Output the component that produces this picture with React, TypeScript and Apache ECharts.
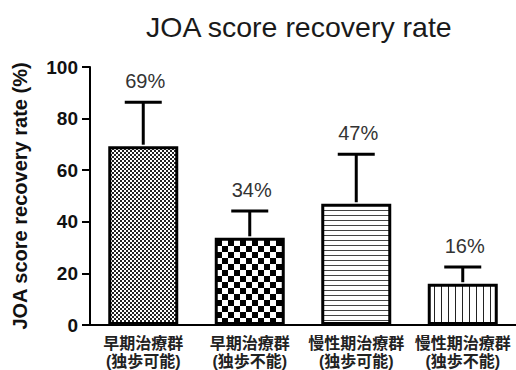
import React, { useEffect, useRef } from "react";
import * as echarts from "echarts";

const categories = ["早期治療群\n(独歩可能)", "早期治療群\n(独歩不能)", "慢性期治療群\n(独歩可能)", "慢性期治療群\n(独歩不能)"];
const values = [69.3, 33.8, 47, 16];
const upperErr = [86.3, 44.2, 66.2, 22.5];
const pctLabels = ["69%", "34%", "47%", "16%"];
const yTicks = [0, 20, 40, 60, 80, 100];

function makeTile(w: number, h: number, draw: (ctx: CanvasRenderingContext2D) => void) {
  const c = document.createElement("canvas");
  c.width = w;
  c.height = h;
  const ctx = c.getContext("2d")!;
  ctx.fillStyle = "#ffffff";
  ctx.fillRect(0, 0, w, h);
  draw(ctx);
  return { image: c, repeat: "repeat", imageWidth: w, imageHeight: h } as any;
}

export default function App() {
  const ref = useRef<HTMLDivElement>(null);
  useEffect(() => {
    if (!ref.current) return;
    const chart = echarts.init(ref.current, null, { renderer: "svg" });
    const patterns = [
      makeTile(4, 4, (ctx) => {
        ctx.fillStyle = "#222";
        ctx.fillRect(0, 0, 2, 2);
        ctx.fillRect(2, 2, 2, 2);
      }),
      makeTile(12, 12, (ctx) => {
        ctx.fillStyle = "#000";
        ctx.fillRect(0, 0, 6, 6);
        ctx.fillRect(6, 6, 6, 6);
      }),
      makeTile(4, 5, (ctx) => {
        ctx.fillStyle = "#444";
        ctx.fillRect(0, 0, 4, 1);
      }),
      makeTile(7, 4, (ctx) => {
        ctx.fillStyle = "#222";
        ctx.fillRect(0, 0, 1, 4);
      }),
    ];
    const errData = values.map((v, i) => [i, v, upperErr[i], pctLabels[i]]);
    chart.setOption({
      animation: false,
      title: {
        text: "JOA score recovery rate",
        left: 141,
        top: 7,
        textStyle: { fontFamily: "Liberation Sans, Arial", fontSize: 28.5, fontWeight: "normal", color: "#1a1a1a" },
      },
      grid: { left: 90, right: 0, top: 67, bottom: 45 },
      xAxis: {
        type: "category",
        data: categories,
        axisLine: { lineStyle: { color: "#000", width: 2 } },
        axisTick: { alignWithLabel: true, length: 6, lineStyle: { color: "#000", width: 2 } },
        axisLabel: {
          interval: 0,
          color: "#222",
          fontSize: 16,
          fontWeight: "bold",
          lineHeight: 18,
          margin: 9,
          fontFamily: "'Liberation Sans', 'Noto Sans CJK JP'",
        },
      },
      yAxis: {
        type: "value",
        min: 0,
        max: 100,
        interval: 20,
        name: "JOA score recovery rate (%)",
        nameLocation: "middle",
        nameGap: 60,
        nameTextStyle: { fontFamily: "Liberation Sans, Arial", fontSize: 20, fontWeight: "bold", color: "#111" },
        axisLine: { show: true, lineStyle: { color: "#000", width: 2 } },
        axisTick: { show: true, length: 8, lineStyle: { color: "#000", width: 2 } },
        splitLine: { show: false },
        axisLabel: {
          color: "#111",
          fontSize: 19,
          fontWeight: "bold",
          fontFamily: "Liberation Sans, Arial",
          margin: 12,
          formatter: (v: number) => (yTicks.includes(v) ? String(v) : ""),
        },
      },
      series: [
        {
          type: "bar",
          barWidth: 70,
          data: values.map((v, i) => ({
            value: v,
            itemStyle: { color: patterns[i], borderColor: "#000", borderWidth: 3 },
          })),
          z: 2,
        },
        {
          type: "custom",
          data: errData,
          encode: { x: 0, y: 2 },
          z: 3,
          renderItem: (params: any, api: any) => {
            const i = api.value(0);
            const base = api.coord([i, api.value(1)]);
            const top = api.coord([i, api.value(2)]);
            const half = 18.5;
            const label = pctLabels[params.dataIndex];
            return {
              type: "group",
              children: [
                {
                  type: "line",
                  shape: { x1: base[0], y1: base[1] - 1.5, x2: top[0], y2: top[1] },
                  style: { stroke: "#000", lineWidth: 3 },
                },
                {
                  type: "line",
                  shape: { x1: top[0] - half, y1: top[1], x2: top[0] + half, y2: top[1] },
                  style: { stroke: "#000", lineWidth: 3 },
                },
                {
                  type: "text",
                  x: top[0] + 2,
                  y: top[1] - 11,
                  style: {
                    text: label,
                    fontSize: 20,
                    fontFamily: "Liberation Sans, Arial",
                    fill: "#333",
                    align: "center",
                    verticalAlign: "bottom",
                  },
                },
              ],
            };
          },
        },
      ],
    });
    return () => chart.dispose();
  }, []);
  return <div ref={ref} style={{ width: 516, height: 370, position: "absolute", left: 0, top: 0 }} />;
}
